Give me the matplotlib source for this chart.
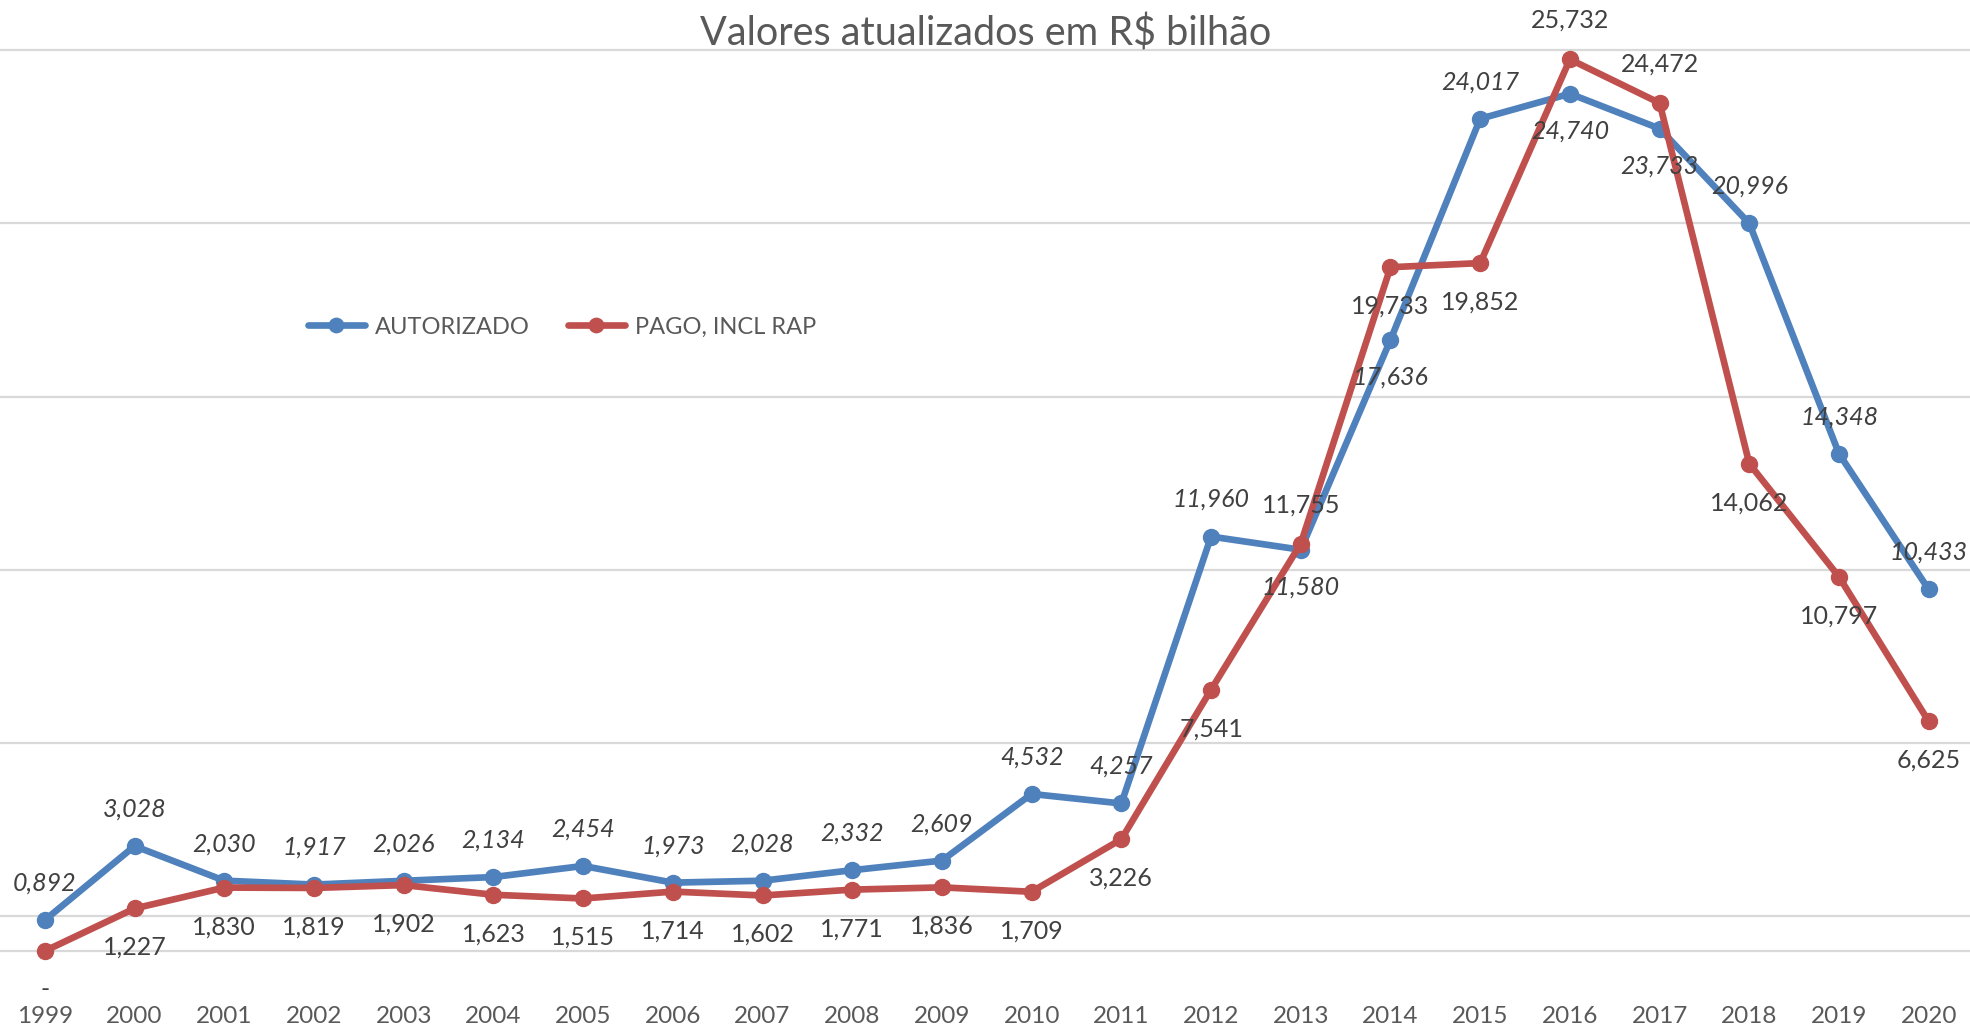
import matplotlib.pyplot as plt

# --- Data ---
years = [str(y) for y in range(1999, 2021)]
autorizado = [0.892, 3.028, 2.030, 1.917, 2.026, 2.134, 2.454, 1.973, 2.028, 2.332, 2.609,
              4.532, 4.257, 11.960, 11.580, 17.636, 24.017, 24.740, 23.733, 20.996, 14.348, 10.433]
pago = [0.0, 1.227, 1.830, 1.819, 1.902, 1.623, 1.515, 1.714, 1.602, 1.771, 1.836,
        1.709, 3.226, 7.541, 11.755, 19.733, 19.852, 25.732, 24.472, 14.062, 10.797, 6.625]

# label side for each point: +1 above, -1 below
side_aut = [1] * 14 + [-1, -1, 1, -1, -1, 1, 1, 1]
side_pago = [-1] * 14 + [1, -1, -1, 1, 1, -1, -1, -1]

BLUE = "#4F81BD"
RED = "#C0504D"
GRID = "#D9D9D9"

plt.rcParams['font.family'] = ['Lato', 'DejaVu Sans']


def fmt(v):
    if v == 0:
        return "-"
    return f"{v:.3f}".replace(".", ",")


# --- Create graph ---
fig = plt.figure(figsize=(19.7, 10.29), dpi=100)
ax = fig.add_axes([0, 1 - 980 / 1029, 1, (980 - 40) / 1029])

for g in [1, 6, 11, 16, 21, 26]:
    ax.axhline(g, color=GRID, lw=1.6, zorder=0)
ax.axhline(0, color=GRID, lw=1.6, zorder=0)

x = list(range(len(years)))
ax.plot(x, autorizado, '-o', color=BLUE, lw=4.8, ms=11.5, label="AUTORIZADO", zorder=3,
        solid_capstyle='round')
ax.plot(x, pago, '-o', color=RED, lw=4.8, ms=11.5, label="PAGO, INCL RAP", zorder=4,
        solid_capstyle='round')

for i in x:
    ax.annotate(fmt(autorizado[i]), (i, autorizado[i]), xytext=(0, 37 * side_aut[i]),
                textcoords='offset pixels', ha='center', va='center', fontsize=18,
                style='italic', color="#404040", zorder=5)
    ax.annotate(fmt(pago[i]), (i, pago[i]), xytext=(0, 39 * side_pago[i]),
                textcoords='offset pixels', ha='center', va='center', fontsize=18,
                color="#404040", zorder=5)

ax.set_xlim(-0.5, 21.46)
ax.set_ylim(-0.837, 26.29)
ax.set_xticks(x)
ax.set_xticklabels(years, fontsize=17.5, color="#595959")
ax.tick_params(axis='x', length=0, pad=19)
ax.set_yticks([])
for s in ax.spines.values():
    s.set_visible(False)

fig.text(986 / 1970, 1 - 33 / 1029, "Valores atualizados em R$ bilhão", fontsize=28.5,
         color="#595959", ha='center', va='center')

ax.legend(loc='center left', bbox_to_anchor=(308 / 1970, 1 - 327 / 1029),
          bbox_transform=fig.transFigure, ncol=2, frameon=False, fontsize=17,
          labelcolor="#595959", handlelength=2.4, handletextpad=0.45, columnspacing=1.6,
          borderpad=0, borderaxespad=0, markerscale=0.9)

plt.savefig("out.png", dpi=100)
